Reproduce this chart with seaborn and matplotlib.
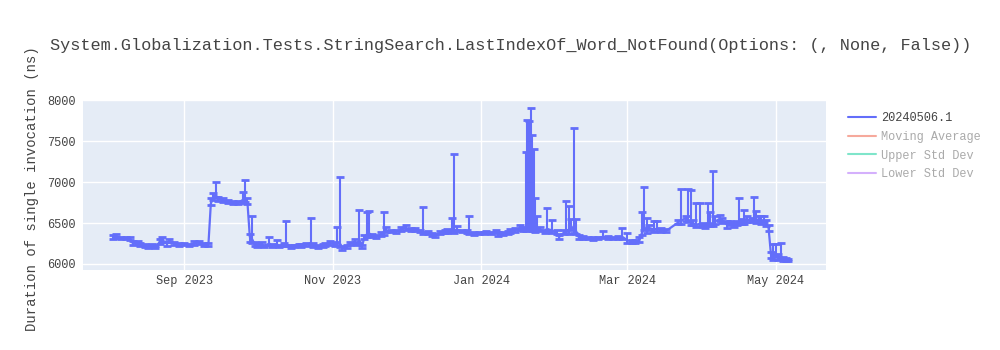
import matplotlib
matplotlib.use("Agg")
import matplotlib.pyplot as plt
import matplotlib.dates as mdates
from matplotlib.lines import Line2D
import seaborn as sns
import pandas as pd

TITLE = "System.Globalization.Tests.StringSearch.LastIndexOf_Word_NotFound(Options: (, None, False))"
Y_LABEL = "Duration of single invocation (ns)"
SERIES_NAME = "20240506.1"
LEGEND_HIDDEN = ["Moving Average", "Upper Std Dev", "Lower Std Dev"]
Y_TICKS = [6000, 6500, 7000, 7500, 8000]

run_dates = [
    "2023-08-03", "2023-08-04", "2023-08-06", "2023-08-08", "2023-08-10", "2023-08-11", "2023-08-13", "2023-08-14",
    "2023-08-16", "2023-08-17", "2023-08-19", "2023-08-20", "2023-08-22", "2023-08-23", "2023-08-25", "2023-08-26",
    "2023-08-28", "2023-08-30", "2023-09-01", "2023-09-03", "2023-09-05", "2023-09-07", "2023-09-09", "2023-09-11",
    "2023-09-12", "2023-09-13", "2023-09-14", "2023-09-15", "2023-09-17", "2023-09-19", "2023-09-21", "2023-09-23",
    "2023-09-25", "2023-09-26", "2023-09-27", "2023-09-28", "2023-09-29", "2023-09-30", "2023-10-01", "2023-10-03",
    "2023-10-04", "2023-10-06", "2023-10-07", "2023-10-09", "2023-10-10", "2023-10-12", "2023-10-13", "2023-10-15",
    "2023-10-16", "2023-10-18", "2023-10-19", "2023-10-21", "2023-10-23", "2023-10-24", "2023-10-26", "2023-10-28",
    "2023-10-29", "2023-10-31", "2023-11-02", "2023-11-03", "2023-11-04", "2023-11-05", "2023-11-07", "2023-11-08",
    "2023-11-10", "2023-11-11", "2023-11-12", "2023-11-13", "2023-11-14", "2023-11-15", "2023-11-16", "2023-11-17",
    "2023-11-19", "2023-11-21", "2023-11-22", "2023-11-23", "2023-11-25", "2023-11-27", "2023-11-29", "2023-12-01",
    "2023-12-03", "2023-12-05", "2023-12-07", "2023-12-08", "2023-12-10", "2023-12-12", "2023-12-13", "2023-12-15",
    "2023-12-17", "2023-12-18", "2023-12-20", "2023-12-21", "2023-12-22", "2023-12-24", "2023-12-26", "2023-12-27",
    "2023-12-29", "2023-12-31", "2024-01-02", "2024-01-03", "2024-01-05", "2024-01-07", "2024-01-08", "2024-01-10",
    "2024-01-12", "2024-01-13", "2024-01-15", "2024-01-17", "2024-01-18", "2024-01-19 06:00", "2024-01-19 18:00",
    "2024-01-20 12:00", "2024-01-21 06:00", "2024-01-21 18:00", "2024-01-22 12:00", "2024-01-23 06:00",
    "2024-01-23 18:00", "2024-01-25", "2024-01-27", "2024-01-28", "2024-01-30", "2024-02-01", "2024-02-02",
    "2024-02-04", "2024-02-05", "2024-02-06", "2024-02-07", "2024-02-08", "2024-02-09", "2024-02-10", "2024-02-12",
    "2024-02-14", "2024-02-16", "2024-02-18", "2024-02-20", "2024-02-22", "2024-02-24", "2024-02-26", "2024-02-28",
    "2024-03-01", "2024-03-03", "2024-03-04", "2024-03-06", "2024-03-07", "2024-03-08", "2024-03-09", "2024-03-10",
    "2024-03-12", "2024-03-13", "2024-03-15", "2024-03-17", "2024-03-22", "2024-03-23", "2024-03-25", "2024-03-26",
    "2024-03-27", "2024-03-28", "2024-03-29", "2024-03-31", "2024-04-01", "2024-04-02", "2024-04-03", "2024-04-04",
    "2024-04-05", "2024-04-06", "2024-04-08", "2024-04-09", "2024-04-11", "2024-04-12", "2024-04-14", "2024-04-15",
    "2024-04-16", "2024-04-17", "2024-04-18", "2024-04-19", "2024-04-21", "2024-04-22", "2024-04-23", "2024-04-24",
    "2024-04-25", "2024-04-26", "2024-04-27", "2024-04-28", "2024-04-29", "2024-04-30", "2024-05-01", "2024-05-02",
    "2024-05-03", "2024-05-04", "2024-05-05", "2024-05-06",
]

mean_ns = [
    6325, 6340, 6320, 6315, 6305, 6250, 6265, 6240,
    6225, 6205, 6225, 6205, 6265, 6290, 6245, 6285,
    6250, 6235, 6245, 6230, 6250, 6265, 6235, 6240,
    6740, 6810, 6850, 6790, 6780, 6760, 6750, 6745,
    6780, 6800, 6760, 6330, 6300, 6240, 6225, 6235,
    6220, 6250, 6225, 6240, 6220, 6230, 6240, 6215,
    6220, 6230, 6225, 6240, 6250, 6230, 6210, 6225,
    6240, 6250, 6245, 6260, 6250, 6195, 6215, 6250,
    6270, 6245, 6290, 6210, 6320, 6360, 6375, 6350,
    6335, 6360, 6380, 6410, 6400, 6395, 6420, 6440,
    6420, 6420, 6400, 6390, 6380, 6360, 6340, 6380,
    6390, 6400, 6420, 6410, 6420, 6400, 6390, 6380,
    6370, 6380, 6375, 6385, 6380, 6390, 6360, 6370,
    6385, 6400, 6410, 6440, 6420, 6440, 6460,
    6470, 6450, 6440, 6430, 6420,
    6440, 6420, 6400, 6430, 6410, 6380, 6330,
    6380, 6420, 6390, 6460, 6420, 6400, 6330, 6320,
    6315, 6310, 6320, 6330, 6325, 6315, 6320, 6330,
    6290, 6270, 6275, 6290, 6380, 6450, 6410, 6440,
    6420, 6430, 6410, 6405, 6510, 6530, 6560, 6540,
    6520, 6500, 6480, 6490, 6470, 6460, 6500, 6490,
    6500, 6520, 6550, 6530, 6480, 6500, 6470, 6500,
    6520, 6510, 6520, 6540, 6530, 6560, 6530, 6550,
    6520, 6540, 6500, 6440, 6110, 6090, 6130, 6080,
    6100, 6060, 6055, 6050,
]

err_hi_ns = [
    30, 20, 15, 15, 20, 30, 20, 20,
    15, 20, 15, 20, 45, 35, 20, 25,
    20, 15, 15, 15, 30, 20, 15, 15,
    60, 60, 150, 30, 25, 20, 20, 20,
    100, 225, 40, 40, 285, 25, 20, 35,
    15, 80, 20, 50, 15, 20, 280, 15,
    15, 15, 20, 20, 310, 20, 20, 15,
    20, 25, 20, 190, 810, 20, 20, 20,
    30, 20, 370, 20, 30, 275, 270, 20,
    20, 25, 250, 40, 20, 20, 35, 30,
    20, 20, 20, 310, 20, 20, 30, 20,
    20, 25, 140, 930, 40, 20, 20, 210,
    15, 15, 15, 15, 15, 20, 25, 20,
    20, 25, 30, 40, 30, 930, 1300,
    1280, 1450, 1130, 970, 380,
    140, 30, 20, 250, 125, 30, 20,
    30, 350, 320, 90, 1240, 150, 20, 20,
    15, 15, 15, 75, 15, 15, 20, 110,
    90, 20, 20, 40, 260, 490, 150, 40,
    110, 100, 30, 20, 30, 390, 30, 380,
    380, 40, 260, 250, 30, 30, 250, 140,
    630, 60, 50, 30, 40, 30, 30, 30,
    280, 40, 140, 40, 30, 260, 120, 40,
    70, 40, 40, 40, 40, 150, 110, 40,
    150, 30, 20, 15,
]

err_lo_ns = [
    20, 20, 15, 15, 15, 20, 20, 15,
    15, 15, 15, 15, 20, 20, 20, 20,
    15, 15, 15, 15, 15, 20, 15, 15,
    20, 30, 30, 20, 20, 20, 15, 15,
    30, 40, 30, 60, 40, 20, 15, 15,
    15, 20, 15, 15, 15, 15, 20, 15,
    10, 15, 15, 20, 20, 20, 15, 15,
    15, 20, 20, 30, 40, 20, 15, 15,
    15, 15, 40, 20, 20, 30, 30, 20,
    20, 20, 30, 20, 15, 15, 20, 20,
    15, 15, 15, 20, 20, 15, 15, 15,
    15, 20, 20, 30, 20, 15, 15, 20,
    15, 15, 15, 10, 15, 15, 20, 15,
    15, 20, 20, 30, 20, 40, 40,
    40, 40, 40, 30, 30,
    30, 20, 20, 30, 30, 20, 20,
    20, 40, 30, 40, 40, 30, 20, 15,
    15, 15, 15, 15, 15, 15, 15, 20,
    30, 20, 15, 20, 30, 40, 30, 30,
    30, 30, 20, 15, 20, 40, 30, 30,
    40, 30, 30, 30, 20, 20, 30, 30,
    40, 30, 30, 30, 40, 20, 20, 30,
    30, 20, 30, 30, 20, 30, 30, 30,
    30, 30, 40, 40, 40, 40, 40, 30,
    40, 20, 15, 10,
]

BLUE = "#636EFA"
HIDDEN_COLORS = ["#EF553B", "#00CC96", "#AB63FA"]
MONO = ["Liberation Mono", "DejaVu Sans Mono"]

sns.set_theme(style="darkgrid")
plt.rcParams["font.family"] = MONO

df = pd.DataFrame({
    "date": pd.to_datetime(run_dates, format="ISO8601"),
    "mean": mean_ns,
    "hi": err_hi_ns,
    "lo": err_lo_ns,
})

fig = plt.figure(figsize=(10, 3.5), dpi=100)
fig.patch.set_facecolor("white")
ax = fig.add_axes([0.083, 0.229, 0.743, 0.485])
ax.set_facecolor("#E5ECF6")

sns.lineplot(data=df, x="date", y="mean", ax=ax, color=BLUE, linewidth=1.6, sort=True)
ax.errorbar(df["date"], df["mean"], yerr=[df["lo"], df["hi"]], fmt="none",
            ecolor=BLUE, elinewidth=1.5, capsize=3, capthick=2.0, zorder=3)

ax.set_xlim(pd.Timestamp("2023-07-21 12:00"), pd.Timestamp("2024-05-21 14:00"))
ax.set_ylim(5928, 8002)
ax.set_yticks(Y_TICKS)
ax.set_yticklabels([str(v) for v in Y_TICKS])
ax.xaxis.set_major_locator(mdates.MonthLocator(bymonth=[1, 3, 5, 7, 9, 11]))
ax.xaxis.set_major_formatter(mdates.DateFormatter("%b %Y"))
ax.grid(True, color="white", linewidth=1.0)
for s in ax.spines.values():
    s.set_visible(False)
ax.tick_params(axis="both", length=0, labelsize=8.6, labelcolor="#444444", pad=5)
ax.tick_params(axis="x", pad=4)
ax.set_xlabel("")
ax.set_ylabel(Y_LABEL, fontsize=10, color="#444444")
ax.yaxis.set_label_coords(-0.059, 0.48)

fig.text(0.05, 0.87, TITLE, fontsize=12.2, color="#444444", ha="left", va="center")

handles = [Line2D([0], [0], color=BLUE, linewidth=1.5)]
handles += [Line2D([0], [0], color=c, linewidth=1.5, alpha=0.5) for c in HIDDEN_COLORS]
labels = [SERIES_NAME] + LEGEND_HIDDEN
leg = fig.legend(handles, labels, loc="upper left", bbox_to_anchor=(0.843, 0.693),
                 frameon=False, fontsize=8.6, handlelength=2.4, handletextpad=0.4,
                 labelspacing=0.56, borderaxespad=0)
for i, t in enumerate(leg.get_texts()):
    t.set_color("#444444" if i == 0 else "#aaaaaa")

fig.savefig("out.png", dpi=100, facecolor="white")
